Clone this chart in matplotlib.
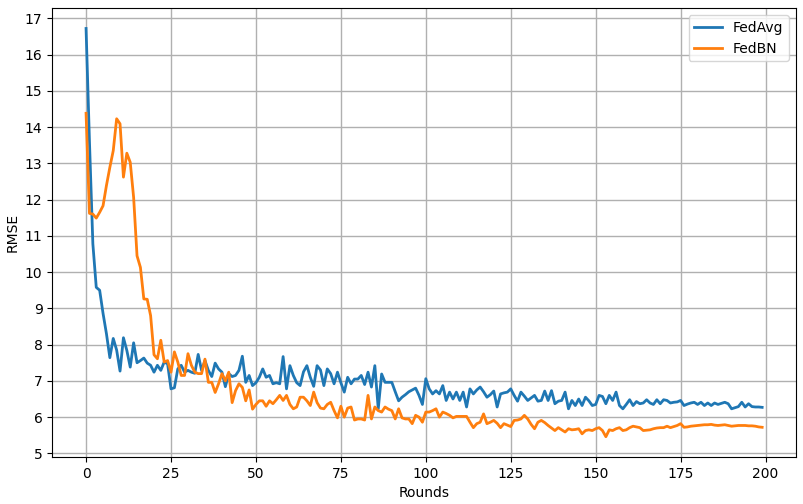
import matplotlib
matplotlib.use("Agg")
from matplotlib import pyplot as plt

# RMSE per round
fedavg = [
    16.72, 13.6, 10.78, 9.58, 9.5, 8.86, 8.3, 7.64, 8.17, 7.85,
    7.27, 8.19, 7.84, 7.38, 8.05, 7.5, 7.56, 7.63, 7.49, 7.43,
    7.24, 7.43, 7.29, 7.52, 7.47, 6.78, 6.81, 7.33, 7.43, 7.24,
    7.29, 7.24, 7.21, 7.73, 7.29, 7.56, 7.29, 7.12, 7.49, 7.33,
    7.24, 6.84, 7.2, 7.12, 7.15, 7.29, 7.68, 6.96, 7.15, 6.87,
    6.95, 7.1, 7.33, 7.1, 7.15, 6.92, 6.95, 6.92, 7.67, 6.78,
    7.42, 7.15, 6.95, 6.87, 7.25, 7.42, 7.1, 6.85, 7.42, 7.3,
    6.87, 7.33, 7.2, 6.92, 7.24, 6.95, 6.69, 7.1, 6.92, 7.05,
    7.05, 7.15, 6.9, 7.24, 6.83, 7.42, 6.23, 7.19, 6.96, 6.96,
    6.96, 6.7, 6.45, 6.55, 6.62, 6.7, 6.75, 6.8, 6.6, 6.35,
    7.06, 6.78, 6.64, 6.73, 6.64, 6.87, 6.46, 6.69, 6.5, 6.69,
    6.46, 6.69, 6.28, 6.78, 6.64, 6.75, 6.83, 6.7, 6.55, 6.62,
    6.72, 6.28, 6.64, 6.67, 6.69, 6.78, 6.6, 6.44, 6.69, 6.58,
    6.46, 6.53, 6.6, 6.44, 6.46, 6.72, 6.46, 6.73, 6.37, 6.44,
    6.46, 6.69, 6.23, 6.46, 6.32, 6.5, 6.32, 6.55, 6.45, 6.32,
    6.35, 6.6, 6.57, 6.37, 6.6, 6.46, 6.69, 6.32, 6.23, 6.35,
    6.48, 6.32, 6.43, 6.37, 6.39, 6.48, 6.39, 6.35, 6.48, 6.37,
    6.48, 6.46, 6.39, 6.41, 6.42, 6.46, 6.32, 6.36, 6.39, 6.41,
    6.35, 6.41, 6.32, 6.39, 6.32, 6.39, 6.35, 6.38, 6.41, 6.37,
    6.23, 6.26, 6.29, 6.41, 6.28, 6.37, 6.29, 6.28, 6.28, 6.27,
]

fedbn = [
    14.38, 11.62, 11.6, 11.49, 11.65, 11.83, 12.39, 12.89, 13.35, 14.23,
    14.09, 12.62, 13.28, 13.03, 12.06, 10.45, 10.13, 9.26, 9.25, 8.8,
    7.72, 7.61, 8.12, 7.52, 7.56, 7.24, 7.8, 7.52, 7.15, 7.15,
    7.75, 7.43, 7.24, 7.2, 7.2, 7.6, 6.96, 6.96, 6.68, 6.92,
    7.2, 7.0, 7.24, 6.4, 6.73, 6.92, 6.82, 6.45, 6.75, 6.22,
    6.35, 6.45, 6.45, 6.3, 6.45, 6.37, 6.48, 6.6, 6.46, 6.6,
    6.35, 6.23, 6.28, 6.55, 6.55, 6.45, 6.32, 6.69, 6.4, 6.25,
    6.23, 6.35, 6.41, 6.18, 5.98, 6.3, 6.0, 6.25, 6.28, 5.92,
    5.95, 5.95, 5.92, 6.6, 5.95, 6.28, 6.18, 6.14, 6.28, 6.22,
    6.18, 5.95, 6.23, 5.98, 5.95, 5.95, 5.82, 6.05, 6.0, 5.86,
    6.14, 6.14, 6.18, 6.23, 6.0, 6.14, 6.1, 6.05, 5.98, 6.02,
    6.02, 6.02, 6.02, 5.86, 5.71, 5.82, 5.86, 6.09, 5.82, 5.86,
    5.91, 5.83, 5.71, 5.82, 5.78, 5.74, 5.91, 5.92, 5.95, 6.05,
    5.95, 5.8, 5.68, 5.86, 5.91, 5.85, 5.77, 5.7, 5.63, 5.71,
    5.65, 5.59, 5.68, 5.65, 5.66, 5.68, 5.54, 5.63, 5.65, 5.63,
    5.68, 5.71, 5.63, 5.46, 5.65, 5.63, 5.68, 5.71, 5.63, 5.65,
    5.71, 5.75, 5.73, 5.71, 5.63, 5.64, 5.65, 5.68, 5.7, 5.71,
    5.71, 5.75, 5.71, 5.74, 5.77, 5.82, 5.72, 5.73, 5.75, 5.76,
    5.77, 5.78, 5.79, 5.79, 5.8, 5.78, 5.77, 5.78, 5.79, 5.77,
    5.75, 5.76, 5.77, 5.77, 5.77, 5.76, 5.76, 5.75, 5.73, 5.72,
]

rounds = list(range(len(fedavg)))

fig, ax = plt.subplots(figsize=(8.04, 5.04), dpi=100)
ax.plot(rounds, fedavg, label='FedAvg', linewidth=2)
ax.plot(rounds, fedbn, label='FedBN', linewidth=2)
ax.set_yticks(range(5, 18))
ax.set_xticks(range(0, 201, 25))
ax.grid(True, color='#b0b0b0', linewidth=1)
ax.set_xlabel('Rounds')
ax.set_ylabel('RMSE')
ax.legend(loc='upper right')
fig.subplots_adjust(left=0.065, right=0.99, top=0.984, bottom=0.093)
fig.savefig('out.png')
